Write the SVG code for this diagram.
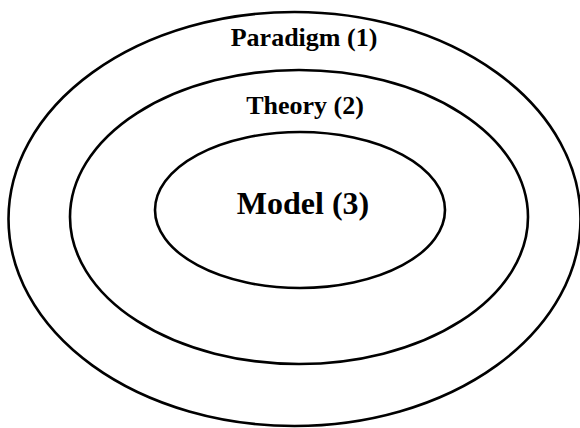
<svg xmlns="http://www.w3.org/2000/svg" width="580" height="428" viewBox="0 0 580 428">
<style>
.ring{fill:none;stroke:#000;stroke-width:2.6}
.lbl{font-family:"Liberation Serif","DejaVu Serif",serif;font-weight:bold;fill:#000;text-anchor:middle}
</style>
<rect width="580" height="428" fill="#fff"/>
<g id="paradigm">
<ellipse class="ring" cx="294.5" cy="219" rx="286" ry="207"/>
<text class="lbl" x="304" y="46" font-size="26">Paradigm (1)</text>
</g>
<g id="theory">
<ellipse class="ring" cx="299" cy="217" rx="229" ry="147"/>
<text class="lbl" x="305" y="114" font-size="26">Theory (2)</text>
</g>
<g id="model">
<ellipse class="ring" cx="300" cy="210" rx="145" ry="78"/>
<text class="lbl" x="303" y="214" font-size="32">Model (3)</text>
</g>
<g id="connectors"/>
</svg>
